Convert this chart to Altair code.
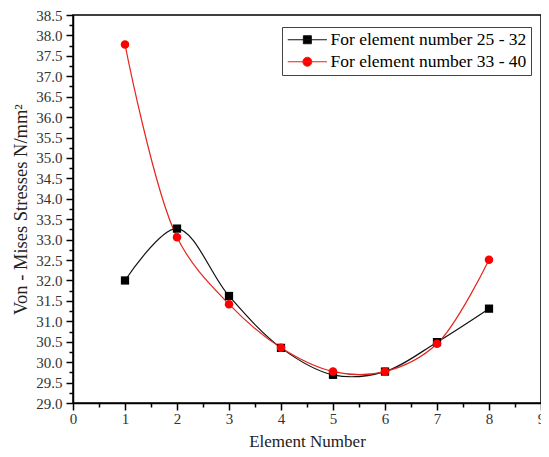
import altair as alt
import pandas as pd

# ---- data ----
element = [1, 2, 3, 4, 5, 6, 7, 8]
series_names = ["For element number 25 - 32", "For element number 33 - 40"]
stress_25_32 = [32.0, 33.27, 31.62, 30.35, 29.69, 29.77, 30.49, 31.31]
stress_33_40 = [37.78, 33.06, 31.42, 30.35, 29.77, 29.77, 30.45, 32.51]
x_tick_values = [i * 0.5 for i in range(19)]          # 0 .. 9, minor at .5
y_tick_values = [29 + i * 0.25 for i in range(39)]    # 29 .. 38.5, minor at .25/.75

rows = []
for name, vals in zip(series_names, [stress_25_32, stress_33_40]):
    for e, v in zip(element, vals):
        rows.append({"element": e, "stress": v, "series": name})
df = pd.DataFrame(rows)

FONT = "Liberation Serif, Times New Roman, serif"
colors = ["#000000", "#ff0000"]
line_colors = ["#111111", "#e3261f"]

xscale = alt.Scale(domain=[0, 9], nice=False, zero=False)
yscale = alt.Scale(domain=[29, 38.5], nice=False, zero=False)

xaxis = alt.Axis(
    title="Element Number",
    values=x_tick_values,
    labelExpr="datum.value % 1 == 0 ? format(datum.value, 'd') : ''",
    tickSize={"condition": {"test": "datum.value % 1 != 0", "value": 4}, "value": 7},
    labelFlush=False, labelOverlap=False, grid=False,
    labelPadding=1, titlePadding=7,
    labelFont=FONT, labelFontSize=15, labelColor="#333333",
    titleFont=FONT, titleFontSize=17, titleFontWeight="normal", titleColor="#222222",
    domainColor="black", domainWidth=1.5, tickColor="black", tickWidth=1.5,
)
yaxis = alt.Axis(
    title="Von - Mises Stresses N/mm²",
    values=y_tick_values,
    labelExpr="(datum.value * 2) % 1 == 0 ? format(datum.value, '.1f') : ''",
    tickSize={"condition": {"test": "(datum.value * 2) % 1 != 0", "value": 4}, "value": 7},
    labelFlush=False, labelOverlap=False, grid=False,
    labelPadding=4, titlePadding=5,
    labelFont=FONT, labelFontSize=15, labelColor="#333333",
    titleFont=FONT, titleFontSize=18.5, titleFontWeight="normal", titleColor="#222222",
    domainColor="black", domainWidth=1.5, tickColor="black", tickWidth=1.5,
)

base = alt.Chart(df).encode(
    x=alt.X("element:Q", scale=xscale, axis=xaxis),
    y=alt.Y("stress:Q", scale=yscale, axis=yaxis),
)

layers = []
for name, lc in zip(series_names, line_colors):
    layers.append(base.transform_filter(alt.datum.series == name).mark_line(
        interpolate="catmull-rom", strokeWidth=1.2, color=lc))
layers.append(base.transform_filter(alt.datum.series == series_names[0]).mark_point(
    shape="square", filled=True, opacity=1, size=68, color=colors[0]))
layers.append(base.transform_filter(alt.datum.series == series_names[1]).mark_point(
    shape="circle", filled=True, opacity=1, size=72, color=colors[1]))

# legend symbols: line + marker, drawn as custom symbol paths
sq_path = "M-1,0H4.6M1.23,-0.571H2.371V0.571H1.229Z"
ci_path = "M-1,0H4.6M1.157,0A0.643,0.643 0 1,0 2.443,0A0.643,0.643 0 1,0 1.157,0Z"

leg = alt.Legend(
    title=None, orient="none", legendX=209, legendY=12,
    symbolSize=196, symbolStrokeWidth=1, symbolOpacity=1,
    labelFont=FONT, labelFontSize=17.5, labelColor="black", labelOffset=27,
    strokeColor="#444444", padding=4, rowPadding=3, labelLimit=400,
)
# legend-only layer: filtered to no rows, so it draws nothing in the plot
layers.append(base.transform_filter("datum.element < 0").mark_point(
    filled=True, strokeWidth=1, size=196).encode(
    fill=alt.Fill("series:N", scale=alt.Scale(domain=series_names, range=colors), legend=leg),
    stroke=alt.Stroke("series:N", scale=alt.Scale(domain=series_names, range=line_colors), legend=leg),
    shape=alt.Shape("series:N", scale=alt.Scale(domain=series_names, range=[sq_path, ci_path]), legend=leg),
))

chart = alt.layer(*layers).properties(
    width=468, height=388,
    autosize=alt.AutoSizeParams(type="none"),
    padding={"left": 65, "top": 7, "right": 0, "bottom": 46},
    background="white",
).configure_view(stroke="black", strokeWidth=1.5)

chart.save("out.html", embed_options={"renderer": "svg", "actions": False})
